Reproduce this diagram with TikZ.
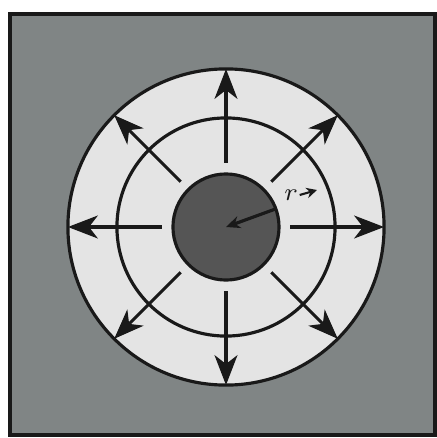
\documentclass[tikz,border=0pt]{standalone}
\usepackage{amsmath,amssymb,tikz,xcolor}
\usetikzlibrary{calc,arrows.meta}
\definecolor{panel}{RGB}{128,133,133}
\definecolor{ring}{RGB}{228,228,228}
\definecolor{corefill}{RGB}{85,85,85}
\definecolor{ink}{RGB}{25,25,25}

\begin{document}
\begin{tikzpicture}[x=0.01cm,y=0.01cm,
  every node/.style={circle,inner sep=0pt,outer sep=0pt},
  flow/.style={draw=ink,line width=0.9pt,-{Stealth[length=8.5pt,width=6.5pt,inset=2.5pt]}}]
 \useasboundingbox (0,0) rectangle (437,438);
 \draw[draw=ink,line width=0.9pt,fill=panel] (10,3) rectangle (435,424);
 \coordinate (O) at (226,211);
 \node[draw=ink,line width=0.9pt,fill=ring,minimum size=3.16cm] (rim) at (O) {};
 \node[draw=ink,line width=0.9pt,minimum size=2.18cm] (mid) at (O) {};
 \node[minimum size=1.28cm] (gap) at (O) {};
 \node[draw=ink,line width=0.9pt,fill=corefill,minimum size=1.06cm] (core) at (O) {};
 \foreach \a in {0,45,...,315} \draw[flow] (gap.\a) -- (rim.\a);
 \draw[draw=ink,line width=0.9pt,-{Stealth[length=4pt,width=3.5pt]}] (core.20) -- (O);
 \node[text=ink] (rlab) at (291,243) {\scriptsize $r$};
 \coordinate (rtip) at (317,248);
 \draw[draw=ink,line width=0.6pt,-{Stealth[length=3pt,width=3pt]}] (rlab.east) -- (rtip);
\end{tikzpicture}
\end{document}
